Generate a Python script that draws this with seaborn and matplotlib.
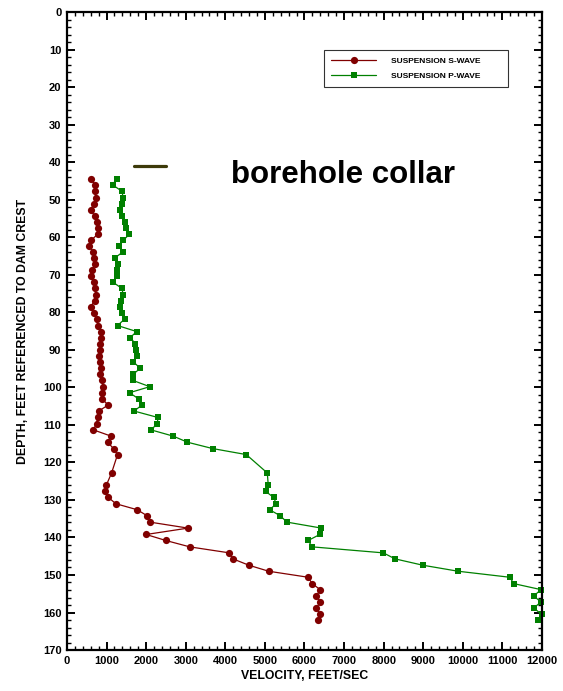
import pandas as pd
import matplotlib
matplotlib.use("Agg")
import matplotlib.pyplot as plt
from matplotlib.ticker import MultipleLocator
import seaborn as sns

# ==========================================================
#  Data (depth in feet, velocity ft/s)
# ==========================================================
depth_ft = [
    44.4, 46.0, 47.7, 49.4, 51.0, 52.6, 54.3, 55.9, 57.6, 59.2,
    60.8, 62.3, 63.8, 65.4, 67.0, 68.6, 70.2, 72.0, 73.6, 75.3,
    76.9, 78.5, 80.2, 81.8, 83.5, 85.1, 86.7, 88.3, 89.9, 91.6,
    93.2, 94.9, 96.5, 98.1, 99.8, 101.4, 103.1, 104.7, 106.3, 108.0,
    109.7, 111.3, 113.0, 114.6, 116.3, 117.9, 122.8, 126.1, 127.7, 129.3,
    131.0, 132.6, 134.2, 135.9, 137.5, 139.2, 140.8, 142.5, 144.1, 145.7,
    147.4, 149.0, 150.6, 152.3, 153.9, 155.6, 157.2, 158.8, 160.5, 162.1,
]

s_wave = [
    605, 706, 706, 723, 689, 597, 698, 748, 781, 773,
    605, 563, 655, 689, 714, 639, 597, 689, 714, 723,
    698, 597, 689, 748, 781, 866, 853, 840, 840, 807,
    824, 865, 840, 874, 916, 874, 891, 1041, 798, 773,
    748, 664, 1118, 1025, 1176, 1277, 1126, 992, 967, 1041,
    1235, 1772, 2024, 2092, 3058, 1999, 2496, 3101, 4102, 4192,
    4596, 5096, 6092, 6194, 6396, 6303, 6396, 6303, 6396, 6345,
]

p_wave = [
    1252, 1151, 1387, 1420, 1395, 1336, 1387, 1462, 1488, 1572,
    1420, 1302, 1420, 1219, 1277, 1260, 1252, 1168, 1387, 1420,
    1370, 1336, 1387, 1454, 1277, 1760, 1597, 1723, 1731, 1765,
    1680, 1849, 1672, 1655, 2092, 1580, 1815, 1891, 1697, 2294,
    2286, 2118, 2689, 3042, 3681, 4530, 5060, 5085, 5017, 5218,
    5287, 5118, 5387, 5554, 6429, 6386, 6093, 6194, 7992, 8287,
    8993, 9882, 11186, 11287, 11975, 11790, 11975, 11790, 11992, 11907,
]

collar_depth = 41.1
collar_x = [1690, 2490]

S_COLOR = "#800000"
P_COLOR = "#008000"

# ==========================================================
#  Plot
# ==========================================================
sns.set_style("ticks")
plt.rcParams["font.family"] = ["Liberation Sans", "DejaVu Sans"]
plt.rcParams["font.weight"] = "bold"
plt.rcParams["text.color"] = "black"
plt.rcParams["axes.labelcolor"] = "black"

df = pd.DataFrame({"depth": depth_ft, "s": s_wave, "p": p_wave})

fig = plt.figure(figsize=(5.63, 6.91), dpi=100)
ax = fig.add_axes([0.119, 0.0593, 0.8437, 0.9229])

sns.lineplot(data=df, x="s", y="depth", sort=False, estimator=None, ax=ax,
             color=S_COLOR, marker="o", markersize=5.2, markeredgewidth=0,
             linewidth=0.9, label="SUSPENSION S-WAVE", clip_on=False)
sns.lineplot(data=df, x="p", y="depth", sort=False, estimator=None, ax=ax,
             color=P_COLOR, marker="s", markersize=4.8, markeredgewidth=0,
             linewidth=0.9, label="SUSPENSION P-WAVE", clip_on=False)

# borehole collar marker
ax.plot(collar_x, [collar_depth, collar_depth], color="#3d3a0a", linewidth=2.3)
ax.text(4150, 43.3, "borehole collar", fontsize=22.5, fontweight="bold",
        color="black", ha="left", va="center")

ax.set_xlim(0, 12000)
ax.set_ylim(170, 0)
ax.xaxis.set_major_locator(MultipleLocator(1000))
ax.xaxis.set_minor_locator(MultipleLocator(200))
ax.yaxis.set_major_locator(MultipleLocator(10))
ax.yaxis.set_minor_locator(MultipleLocator(2))
ax.tick_params(which="both", direction="in", top=True, right=True,
               labelsize=8, colors="black", pad=4)
ax.tick_params(which="major", length=5.5, width=1.4)
ax.tick_params(which="minor", length=3.2, width=1.0)
for lab in ax.get_xticklabels() + ax.get_yticklabels():
    lab.set_fontweight("bold")
for sp in ax.spines.values():
    sp.set_linewidth(1.6)
    sp.set_color("black")

ax.set_xlabel("VELOCITY, FEET/SEC", fontsize=8.8, fontweight="bold",
              color="black", labelpad=3)
ax.set_ylabel("DEPTH, FEET REFERENCED TO DAM CREST", fontsize=8.8,
              fontweight="bold", color="black", labelpad=10)

leg = ax.legend(loc="upper left", bbox_to_anchor=(0.541, 0.886, 0.387, 0.055),
                mode="expand", fontsize=6, frameon=True, fancybox=False,
                handlelength=5.4, handletextpad=1.8, labelspacing=0.85,
                borderpad=0.85, borderaxespad=0)
leg.get_frame().set_edgecolor("black")
leg.get_frame().set_linewidth(0.8)
for t in leg.get_texts():
    t.set_fontweight("bold")
    t.set_color("black")

plt.savefig("out.png", dpi=100)
plt.close()
